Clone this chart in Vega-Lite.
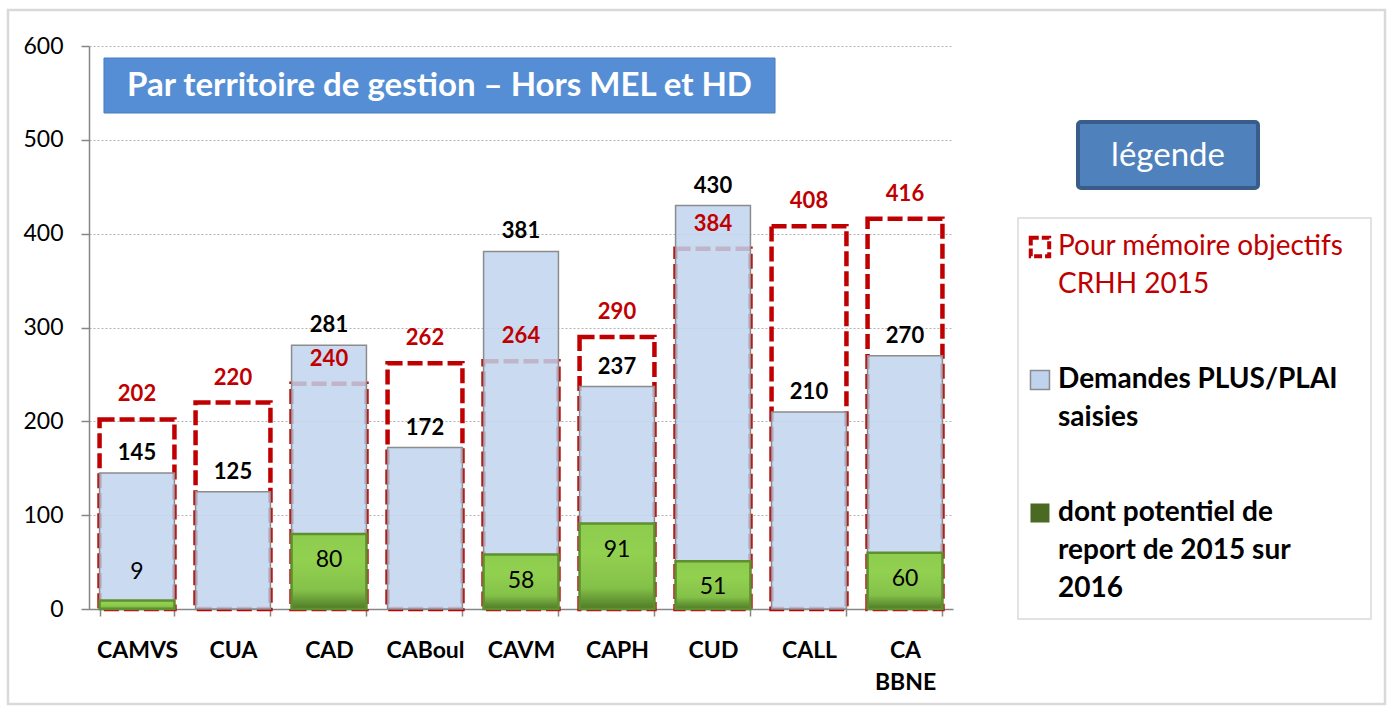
{
  "$schema": "https://vega.github.io/schema/vega-lite/v6.json",
  "width": 864,
  "height": 563,
  "autosize": {"type": "none"},
  "padding": {"left": 89, "top": 46, "right": 435, "bottom": 99},
  "background": "white",
  "config": {"view": {"stroke": null}, "font": "Lato"},
  "resolve": {"scale": {"x": "independent", "y": "independent"}},
  "layer": [
    {
      "data": {"values": [
        {"cat": "CAMVS", "total": 145, "obj": 202, "report": 9},
        {"cat": "CUA", "total": 125, "obj": 220, "report": null},
        {"cat": "CAD", "total": 281, "obj": 240, "report": 80},
        {"cat": "CABoul", "total": 172, "obj": 262, "report": null},
        {"cat": "CAVM", "total": 381, "obj": 264, "report": 58},
        {"cat": "CAPH", "total": 237, "obj": 290, "report": 91},
        {"cat": "CUD", "total": 430, "obj": 384, "report": 51},
        {"cat": "CALL", "total": 210, "obj": 408, "report": null},
        {"cat": "CA BBNE", "total": 270, "obj": 416, "report": 60}
      ]},
      "encoding": {
        "x": {
          "field": "cat", "type": "nominal", "sort": null,
          "scale": {"paddingInner": 0.22, "paddingOuter": 0.11},
          "axis": {
            "title": null, "labelAngle": 0, "labelFont": "Lato", "labelFontSize": 23,
            "labelFontWeight": "bold", "labelColor": "black", "labelPadding": 23,
            "labelLineHeight": 32, "labelExpr": "split(datum.label, ' ')",
            "tickSize": 7, "tickColor": "#868686", "tickWidth": 1.5,
            "domainColor": "#868686", "domainWidth": 1.5, "tickBand": "extent"
          }
        }
      },
      "layer": [
        {
          "mark": {"type": "bar", "fill": "transparent", "stroke": "#c00000", "strokeWidth": 4.5, "strokeDash": [15, 5]},
          "encoding": {
            "y": {
              "field": "obj", "type": "quantitative",
              "scale": {"domain": [0, 600], "nice": false},
              "axis": {
                "title": null, "values": [0, 100, 200, 300, 400, 500, 600],
                "grid": true, "gridDash": [2, 2], "gridColor": "#b3b3b3", "gridWidth": 1,
                "domainColor": "#868686", "domainWidth": 1.5, "tickColor": "#868686", "tickWidth": 1.5,
                "tickSize": 8, "labelFontSize": 23, "labelFont": "Lato", "labelColor": "black", "labelPadding": 18
              }
            }
          }
        },
        {
          "mark": {"type": "bar", "fill": "#bfd3ee", "fillOpacity": 0.85, "stroke": "#8c8c8c", "strokeWidth": 1.5},
          "encoding": {"y": {"field": "total", "type": "quantitative"}}
        },
        {
          "mark": {"type": "bar", "stroke": "#5f8f31", "strokeWidth": 2.5, "fill": {"gradient": "linear", "x1": 0, "y1": 0, "x2": 0, "y2": 1,
            "stops": [{"offset": 0, "color": "#8ecc4e"}, {"offset": 0.35, "color": "#92d050"}, {"offset": 0.75, "color": "#84c149"}, {"offset": 1, "color": "#4e7a26"}]}},
          "encoding": {"y": {"field": "report", "type": "quantitative"}}
        },
        {
          "mark": {"type": "text", "fontSize": 22, "fontWeight": "bold", "color": "black", "dy": -20, "baseline": "middle"},
          "encoding": {"y": {"field": "total", "type": "quantitative"}, "text": {"field": "total"}}
        },
        {
          "mark": {"type": "text", "fontSize": 22, "fontWeight": "bold", "color": "#c00000", "dy": -25, "baseline": "middle"},
          "encoding": {"y": {"field": "obj", "type": "quantitative"}, "text": {"field": "obj"}}
        },
        {
          "transform": [{"filter": "datum.report >= 30"}],
          "mark": {"type": "text", "fontSize": 23, "color": "black", "dy": 26, "baseline": "middle"},
          "encoding": {"y": {"field": "report", "type": "quantitative"}, "text": {"field": "report"}}
        },
        {
          "transform": [{"filter": "datum.report != null && datum.report < 30"}],
          "mark": {"type": "text", "fontSize": 23, "color": "black", "dy": -29, "baseline": "middle"},
          "encoding": {"y": {"field": "report", "type": "quantitative"}, "text": {"field": "report"}}
        }
      ]
    },
    {
      "data": {"values": [
        {"item": 1, "label": "Pour mémoire objectifs\nCRHH 2015", "kind": "obj"},
        {"item": 2, "label": "Demandes PLUS/PLAI\nsaisies", "kind": "dem"},
        {"item": 3, "label": "dont potentiel de\nreport de 2015 sur\n2016", "kind": "rep"}
      ]},
      "layer": [
        {
          "data": {"values": [{"box": "outer"}]},
          "mark": {"type": "rect", "fill": "transparent", "stroke": "#d9d9d9", "strokeWidth": 2.5},
          "encoding": {
            "x": {"datum": -0.844, "type": "quantitative", "scale": {"domain": [0, 9], "nice": false, "zero": false}, "axis": null},
            "x2": {"datum": 13.5},
            "y": {"datum": -0.782, "type": "quantitative", "scale": {"domain": [-0.5113, 3.7218], "reverse": true, "nice": false, "zero": false}, "axis": null},
            "y2": {"datum": 4.437}
          }
        },
        {
          "data": {"values": [{"box": "title"}]},
          "mark": {"type": "rect", "fill": "#558ed5", "stroke": "#4a7dc0", "strokeWidth": 1},
          "encoding": {
            "x": {"datum": 0.156, "type": "quantitative"},
            "x2": {"datum": 7.146},
            "y": {"datum": -0.421, "type": "quantitative"},
            "y2": {"datum": -0.0075}
          }
        },
        {
          "data": {"values": [{"title": "Par territoire de gestion – Hors MEL et HD"}]},
          "mark": {"type": "text", "fontSize": 33, "fontWeight": "bold", "color": "white", "align": "center", "baseline": "middle"},
          "encoding": {
            "x": {"datum": 3.651, "type": "quantitative"},
            "y": {"datum": -0.210, "type": "quantitative"},
            "text": {"field": "title"}
          }
        },
        {
          "data": {"values": [{"box": "legende"}]},
          "mark": {"type": "rect", "fill": "#4f81bd", "stroke": "#385d8a", "strokeWidth": 4, "cornerRadius": 3},
          "encoding": {
            "x": {"datum": 10.302, "type": "quantitative"},
            "x2": {"datum": 12.177},
            "y": {"datum": 0.0601, "type": "quantitative"},
            "y2": {"datum": 0.5564}
          }
        },
        {
          "data": {"values": [{"title": "légende"}]},
          "mark": {"type": "text", "fontSize": 33, "color": "white", "align": "center", "baseline": "middle"},
          "encoding": {
            "x": {"datum": 11.24, "type": "quantitative"},
            "y": {"datum": 0.3158, "type": "quantitative"},
            "text": {"field": "title"}
          }
        },
        {
          "data": {"values": [{"box": "frame"}]},
          "mark": {"type": "rect", "fill": "white", "stroke": "#d9d9d9", "strokeWidth": 1.5},
          "encoding": {
            "x": {"datum": 9.677, "type": "quantitative"},
            "x2": {"datum": 13.354},
            "y": {"datum": 0.782, "type": "quantitative"},
            "y2": {"datum": 3.797}
          }
        },
        {
          "transform": [{"filter": "datum.kind == 'obj'"}],
          "mark": {"type": "square", "filled": false, "stroke": "#c00000", "strokeWidth": 4, "strokeDash": [8, 3], "size": 340, "opacity": 1},
          "encoding": {
            "x": {"datum": 9.906, "type": "quantitative"},
            "y": {"field": "item", "type": "quantitative"}
          }
        },
        {
          "transform": [{"filter": "datum.kind == 'dem'"}],
          "mark": {"type": "square", "filled": true, "fill": "#bfd3ee", "stroke": "#8c8c8c", "strokeWidth": 1.5, "size": 361, "opacity": 1},
          "encoding": {
            "x": {"datum": 9.906, "type": "quantitative"},
            "y": {"field": "item", "type": "quantitative"}
          }
        },
        {
          "transform": [{"filter": "datum.kind == 'rep'"}],
          "mark": {"type": "square", "filled": true, "fill": "#4a6a23", "size": 361, "opacity": 1},
          "encoding": {
            "x": {"datum": 9.906, "type": "quantitative"},
            "y": {"field": "item", "type": "quantitative"}
          }
        },
        {
          "transform": [{"filter": "datum.kind == 'obj'"}],
          "mark": {"type": "text", "fontSize": 28, "color": "#c00000", "align": "left", "baseline": "line-top", "lineHeight": 38, "dy": -19, "lineBreak": "\n"},
          "encoding": {
            "x": {"datum": 10.094, "type": "quantitative"},
            "y": {"field": "item", "type": "quantitative"},
            "text": {"field": "label"}
          }
        },
        {
          "transform": [{"filter": "datum.kind != 'obj'"}],
          "mark": {"type": "text", "fontSize": 28, "fontWeight": "bold", "color": "black", "align": "left", "baseline": "line-top", "lineHeight": 38, "dy": -19, "lineBreak": "\n"},
          "encoding": {
            "x": {"datum": 10.094, "type": "quantitative"},
            "y": {"field": "item", "type": "quantitative"},
            "text": {"field": "label"}
          }
        }
      ]
    }
  ]
}
